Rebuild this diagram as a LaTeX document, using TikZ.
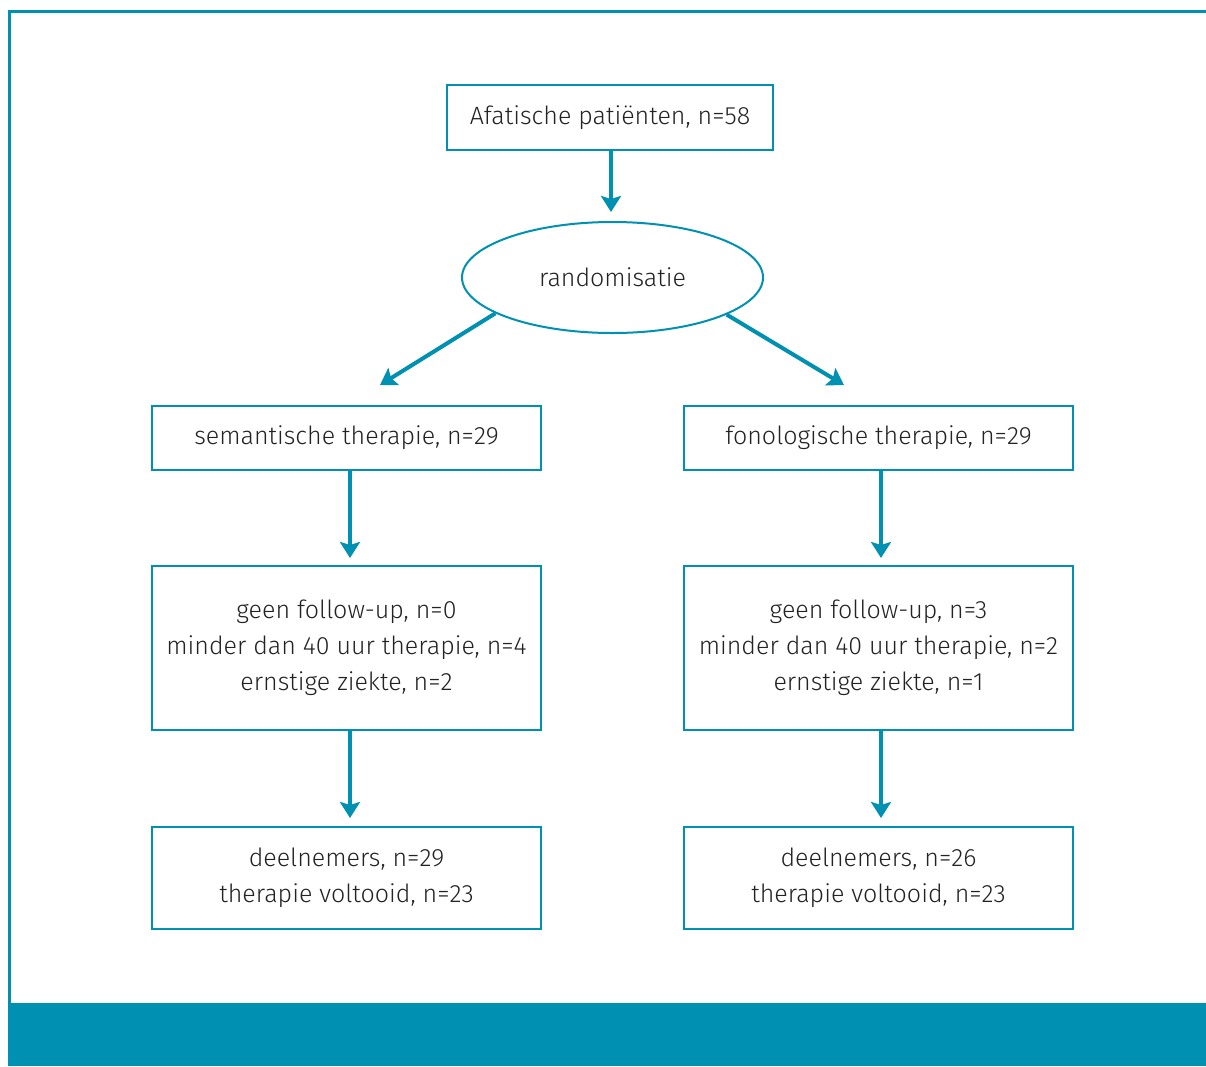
\documentclass[tikz,border=0pt]{standalone}
\usepackage{fontspec}
\setmainfont{Fira Sans}[UprightFont=* Light]
\usetikzlibrary{shapes.geometric,arrows.meta}
\definecolor{teal}{RGB}{0,145,178}
\definecolor{txt}{RGB}{35,35,35}
\begin{document}
\begin{tikzpicture}[x=1pt,y=-1pt,
  box/.style={draw=teal,line width=2pt,fill=white,minimum width=389pt,align=center,text=txt,font=\fontsize{25}{36}\selectfont,inner sep=0pt},
  oval/.style={ellipse,draw=teal,line width=2pt,minimum width=301pt,minimum height=111pt,text=txt,font=\fontsize{25}{36}\selectfont,inner sep=0pt},
  arr/.style={draw=teal,line width=4pt,-{Stealth[length=16pt,width=20pt,inset=3pt]}}]
\useasboundingbox (0,0) rectangle (1206,1066);
\fill[white] (0,0) rectangle (1206,1066);
% frame
\draw[teal,line width=3pt] (9.5,1004) -- (9.5,11.5) -- (1206,11.5);
\fill[teal] (8,1003) rectangle (1206,1066);
% nodes
\node[box,minimum width=326pt,minimum height=65pt] (top) at (610,117.5) {Afatische patiënten, n=58};
\node[oval] (rand) at (612.5,277.5) {randomisatie};
\node[box,minimum height=64pt] (sem) at (346.5,438) {semantische therapie, n=29};
\node[box,minimum height=64pt] (fon) at (878.5,438) {fonologische therapie, n=29};
\node[box,minimum height=164pt] (semx) at (346.5,648) {geen follow-up, n=0\\minder dan 40 uur therapie, n=4\\ernstige ziekte, n=2};
\node[box,minimum height=164pt] (fonx) at (878.5,648) {geen follow-up, n=3\\minder dan 40 uur therapie, n=2\\ernstige ziekte, n=1};
\node[box,minimum height=102pt] (semd) at (346.5,878) {deelnemers, n=29\\therapie voltooid, n=23};
\node[box,minimum height=102pt] (fond) at (878.5,878) {deelnemers, n=26\\therapie voltooid, n=23};
% connectors
\coordinate (tl) at (380,385);
\coordinate (tr) at (844,385);
\draw[arr,shorten >=9pt] (top.south -| 611,0) -- (rand.north -| 611,0);
\draw[arr] (rand.197.5) -- (tl);
\draw[arr] (rand.342.5) -- (tr);
\draw[arr,shorten >=7pt] (sem.south -| 350,0) -- (semx.north -| 350,0);
\draw[arr,shorten >=7pt] (fon.south -| 881,0) -- (fonx.north -| 881,0);
\draw[arr,shorten >=8pt] (semx.south -| 350,0) -- (semd.north -| 350,0);
\draw[arr,shorten >=8pt] (fonx.south -| 881,0) -- (fond.north -| 881,0);
\end{tikzpicture}
\end{document}
